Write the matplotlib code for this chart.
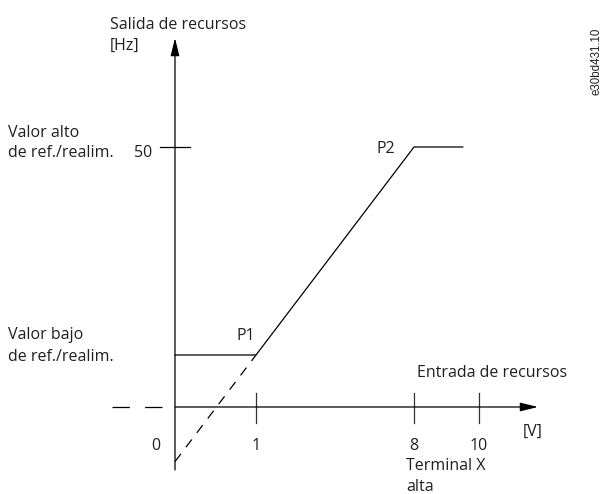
"""
Escalado de referencia: salida de recursos vs entrada de recursos
"""
import numpy as np
import matplotlib
matplotlib.use("Agg")
import matplotlib.pyplot as plt

plt.rcParams['font.family'] = ['Open Sans', 'DejaVu Sans']
plt.rcParams['lines.scale_dashes'] = False

# datos del diagrama (V, Hz)
tick_volts = [0, 1, 8, 10]
tick_labels = ['0', '1', '8', '10']
curve_volts = [0, 1, 8, 9.5]
curve_hz = [10, 10, 50, 50]
ext_volts = [0, 1]
ext_hz = [-10.5, 10]
ref_high = 50
ref_low = 10

W, H = 611, 494
TXT = '#231f20'
FS = 11.5

# escala esquemática: posiciones en píxeles de los voltios marcados
knots_v = np.array([0.0, 1.0, 8.0, 10.0])
knots_px = np.array([175.0, 256.0, 414.0, 479.0])
HZ_PX = 5.2
Y0_PX = 407.0


def fwd(v):
    v = np.asarray(v, dtype=float)
    lo = knots_px[0] + (v - knots_v[0]) * 81.0
    hi = knots_px[-1] + (v - knots_v[-1]) * 32.5
    mid = np.interp(v, knots_v, knots_px)
    return np.where(v < 0, lo, np.where(v > 10, hi, mid))


def inv(p):
    p = np.asarray(p, dtype=float)
    lo = (p - knots_px[0]) / 81.0
    hi = knots_v[-1] + (p - knots_px[-1]) / 32.5
    mid = np.interp(p, knots_px, knots_v)
    return np.where(p < knots_px[0], lo, np.where(p > knots_px[-1], hi, mid))


def px_to_hz(py):
    return (Y0_PX - py) / HZ_PX


def label(x, y, s, **kw):
    kw.setdefault('color', TXT)
    kw.setdefault('fontsize', FS)
    kw.setdefault('va', 'baseline')
    fig.text(x / W, 1 - y / H, s, **kw)


fig = plt.figure(figsize=(W / 100, H / 100), dpi=100)
ax = fig.add_axes([0, 0, 1, 1])
ax.set_xscale('function', functions=(fwd, inv))
ax.set_xlim(float(inv(0)), float(inv(W)))
ax.set_ylim(px_to_hz(H), px_to_hz(0))
ax.axis('off')

lw = 0.9
# ejes con flechas
ax.annotate('', xy=(0, px_to_hz(38)), xytext=(0, px_to_hz(470)),
            arrowprops=dict(arrowstyle='-|>,head_length=0.9,head_width=0.22',
                            lw=lw, color='black', shrinkA=0, shrinkB=0,
                            mutation_scale=12))
ax.annotate('', xy=(float(inv(538)), 0), xytext=(0, 0),
            arrowprops=dict(arrowstyle='-|>,head_length=0.9,head_width=0.22',
                            lw=lw, color='black', shrinkA=0, shrinkB=0,
                            mutation_scale=12))
ax.plot([float(inv(112)), float(inv(162))], [0, 0], color='black', lw=lw,
        dashes=(12.5, 11), solid_capstyle='butt', dash_capstyle='butt')

# marcas del eje x
for v in tick_volts[1:]:
    ax.plot([v, v], [px_to_hz(423), px_to_hz(393)], color='#333333', lw=lw)
# marca 50 Hz
ax.plot([float(inv(160)), float(inv(190))], [ref_high, ref_high],
        color='black', lw=lw)

# curva
ax.plot(curve_volts, curve_hz, color='black', lw=lw)
ax.plot(ext_volts, ext_hz, color='black', lw=lw, dashes=(7, 6))

# textos
label(110, 29, 'Salida de recursos')
label(110, 50, '[Hz]')
label(8, 137, 'Valor alto')
label(8, 157, 'de ref./realim.')
label(152, 157, str(ref_high), ha='right')
label(8, 339, 'Valor bajo')
label(8, 361, 'de ref./realim.')
label(236, 340, 'P1')
label(377, 153, 'P2')
for v, t in zip(tick_volts, tick_labels):
    x = 156 if v == 0 else float(fwd(v))
    label(x, 450, t, ha='center')
label(523, 436, '[V]')
label(417, 377, 'Entrada de recursos')
label(406, 470, 'Terminal X')
label(406, 491, 'alta')
label(597, 61, 'e30bd431.10', rotation=90, ha='center', va='center',
      fontsize=8.3, family=['Liberation Sans', 'DejaVu Sans'])

fig.savefig('out.png', dpi=100)
